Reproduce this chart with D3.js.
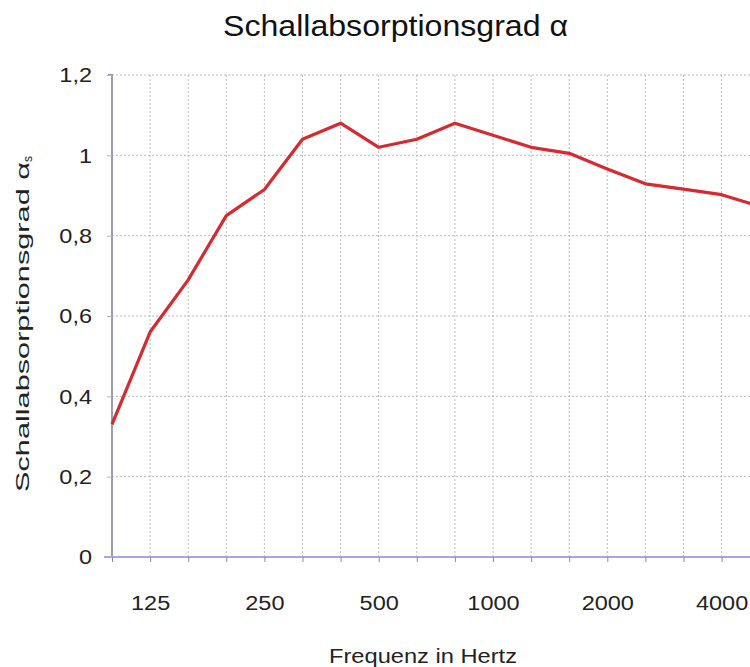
<!DOCTYPE html>
<html><head><meta charset="utf-8">
<script src="https://cdn.jsdelivr.net/npm/d3@7"></script>
<style>body{margin:0;background:#fff}svg{display:block}</style>
</head><body>
<svg id="c" width="750" height="667"></svg>
<script>
const frequencies = ["100","125","160","200","250","315","400","500","630","800","1000","1250","1600","2000","2500","3150","4000","5000"];
const alphaValues = [0.33,0.56,0.69,0.85,0.915,1.04,1.08,1.02,1.04,1.08,1.05,1.02,1.005,0.966,0.929,0.916,0.902,0.873];
const xTickLabels = ["125","250","500","1000","2000","4000"];
const yTicks = [0,0.2,0.4,0.6,0.8,1.0,1.2];
const title = "Schallabsorptionsgrad α";
const xTitle = "Frequenz in Hertz";
const yTitle = "Schallabsorptionsgrad α";
const yTitleSub = "s";

(function(){
const svg = d3.select("#c");
const font = "'Liberation Sans', Arial, sans-serif";
const mLeft = 112, mTop = 75, mBottom = 557;
const step = 38.1;
const x = d3.scalePoint().domain(frequencies).range([mLeft, mLeft + step*(frequencies.length-1)]);
const y = d3.scaleLinear().domain([0,1.2]).range([mBottom, mTop]);

// grid
svg.append("g").selectAll("line").data(yTicks.slice(1)).join("line")
  .attr("x1", mLeft).attr("x2", 760).attr("y1", d=>y(d)).attr("y2", d=>y(d))
  .attr("stroke","#b8b8b8").attr("stroke-width",1).attr("stroke-dasharray","2,2");
svg.append("g").selectAll("line").data(frequencies.slice(1)).join("line")
  .attr("x1", d=>x(d)).attr("x2", d=>x(d)).attr("y1", mTop).attr("y2", mBottom)
  .attr("stroke","#bcbcbc").attr("stroke-width",1).attr("stroke-dasharray","2,2");

// y axis
const yAxis = d3.axisLeft(y).tickValues(yTicks).tickSize(5).tickPadding(15)
  .tickFormat(d => d3.format("~g")(d).replace(".", ","));
const gy = svg.append("g").attr("transform",`translate(${mLeft},0)`).call(yAxis);
gy.select(".domain").attr("stroke","#9a9cb0").attr("stroke-width",2).attr("d",`M-4,${mTop}H0V${mBottom}`);
gy.selectAll(".tick line").attr("stroke","#b0b2c8");
gy.selectAll(".tick text").attr("font-family",font).attr("font-size",21).attr("fill","#222")
  .attr("transform","scale(1.12,1)").attr("x", -20/1.12);

// x axis
const xAxis = d3.axisBottom(x).tickSize(5).tickPadding(33)
  .tickFormat(d => xTickLabels.includes(d) ? d : "");
const gx = svg.append("g").attr("transform",`translate(0,${mBottom})`).call(xAxis);
gx.select(".domain").attr("stroke","#a3a8e0").attr("stroke-width",2).attr("d",`M${mLeft-8},0H760`);
gx.selectAll(".tick line").attr("stroke","#8a8a9a");
gx.selectAll(".tick text").attr("font-family",font).attr("font-size",21).attr("fill","#222")
  .attr("transform","scale(1.12,1)");

// line
const line = d3.line().x((d,i)=>x(frequencies[i])).y(d=>y(d));
svg.append("path").datum(alphaValues).attr("d", line)
  .attr("fill","none").attr("stroke","#d62a30").attr("stroke-width",3.2).attr("stroke-linejoin","round");

// titles
svg.append("text").attr("x",223).attr("y",36)
  .attr("font-family",font).attr("font-size",29).attr("fill","#111")
  .attr("textLength",345).attr("lengthAdjust","spacingAndGlyphs").text(title);
svg.append("text").attr("x",329).attr("y",663)
  .attr("font-family",font).attr("font-size",20).attr("fill","#222")
  .attr("textLength",188).attr("lengthAdjust","spacingAndGlyphs").text(xTitle);
const yl = svg.append("text").attr("transform","translate(29,492) rotate(-90)")
  .attr("font-family",font).attr("font-size",19).attr("fill","#222");
yl.append("tspan").attr("textLength",330).attr("lengthAdjust","spacingAndGlyphs").text(yTitle);
yl.append("tspan").attr("font-size",12).attr("dy",3).text(yTitleSub);
})();
</script>
</body></html>
